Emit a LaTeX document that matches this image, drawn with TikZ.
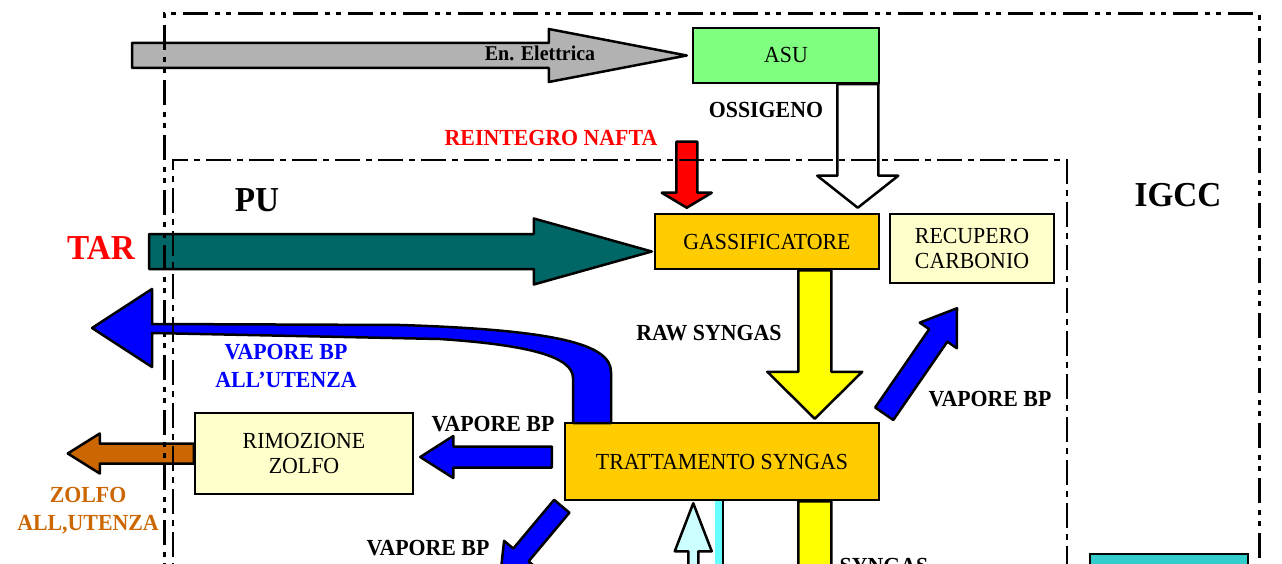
\documentclass[tikz,border=0pt]{standalone}
\usepackage{fontspec}
\setmainfont{Liberation Serif}[FakeStretch=0.95]
\usepackage{tikz}
\usetikzlibrary{calc}
\definecolor{asugreen}{RGB}{128,255,128}
\definecolor{gasorange}{RGB}{255,204,0}
\definecolor{boxcream}{RGB}{255,255,204}
\definecolor{tarteal}{RGB}{0,102,102}
\definecolor{vapblue}{RGB}{0,0,255}
\definecolor{sulfbrown}{RGB}{204,102,0}
\definecolor{elgray}{RGB}{178,178,178}
\definecolor{nafred}{RGB}{255,0,0}
\definecolor{synyellow}{RGB}{255,255,0}
\definecolor{watcyan}{RGB}{204,255,255}
\definecolor{barcyan}{RGB}{102,255,255}
\definecolor{unitteal}{RGB}{51,204,204}
% block arrow: [style]{tail}{tip}{half body}{half head}{head length}
\newcommand{\fatarrow}[6][]{%
  \coordinate (fa-base) at ($(#3)!#6!(#2)$);
  \draw[fatflow,#1] ($(#2)!#4!90:(#3)$) -- ($(fa-base)!#4!90:(#3)$)
    -- ($(fa-base)!#5!90:(#3)$) -- (#3) -- ($(fa-base)!#5!-90:(#3)$)
    -- ($(fa-base)!#4!-90:(#3)$) -- ($(#2)!#4!-90:(#3)$) -- cycle;}
\tikzset{
  unitbox/.style={draw=black,line width=2.5pt,align=center,inner sep=0pt,font=\fontsize{23}{25.5}\selectfont},
  flowlabel/.style={font=\bfseries\fontsize{23}{28}\selectfont,inner sep=0pt,align=center},
  arealabel/.style={font=\bfseries\fontsize{35}{40}\selectfont,inner sep=0pt},
  fatflow/.style={draw=black,line width=2.5pt,line join=round},
  igccline/.style={line width=3pt,dash pattern=on 25pt off 7pt on 5pt off 6pt on 5pt off 7pt},
  puline/.style={line width=2.8pt,dash pattern=on 25pt off 6pt on 6pt off 6pt},
}
\begin{document}
\begin{tikzpicture}[x=1pt,y=-1pt]
  \useasboundingbox (0,0) rectangle (1282,564);
  \clip (0,0) rectangle (1282,564);
  \node[unitbox,fill=asugreen,minimum width=186pt,minimum height=55pt] (asu) at (786,55.5) {ASU};
  \node[unitbox,fill=gasorange,minimum width=224pt,minimum height=55pt] (gass) at (767,241.5) {GASSIFICATORE};
  \node[unitbox,fill=boxcream,minimum width=164pt,minimum height=69pt] (recup) at (972,248.5) {RECUPERO\\CARBONIO};
  \node[unitbox,fill=gasorange,minimum width=314pt,minimum height=77pt] (tratt) at (722,461.5) {TRATTAMENTO SYNGAS};
  \node[unitbox,fill=boxcream,minimum width=218pt,minimum height=81pt] (rimoz) at (304,453.5) {RIMOZIONE\\ZOLFO};
  \node[unitbox,fill=unitteal,minimum width=158pt,minimum height=46pt] (unitbot) at (1169,577) {};

  \coordinate (eltail) at (132,55.5);
  \coordinate (eltip) at ($(asu.west)+(-5,0)$);
  \coordinate (oxtail) at ($(asu.south east)+(-22.5,0)$);
  \coordinate (oxtip) at ($(oxtail |- gass.north)+(0,-5)$);
  \coordinate (naftip) at ($(gass.north west)+(33,-5)$);
  \coordinate (naftail) at ($(naftip)+(0,-66)$);
  \coordinate (tartail) at (149,251.5);
  \coordinate (tartip) at ($(gass.west)+(-2,10)$);
  \coordinate (rawtail) at ($(gass.south east)+(-65.5,0)$);
  \coordinate (rawtip) at ($(rawtail |- tratt.north)+(0,-3)$);
  \coordinate (rectail) at ($(tratt.north east)+(4,-8)$);
  \coordinate (rectip) at ($(recup.south)+(-15,24)$);
  \coordinate (rimtail) at ($(tratt.west)+(-12,-4.5)$);
  \coordinate (rimtip) at ($(rimoz.east)+(6,3.5)$);
  \coordinate (zoltip) at ($(rimoz.west)+(-126,0)$);
  \coordinate (dntail) at ($(tratt.south west)+(-2,5)$);
  \coordinate (dntip) at ($(dntail)+(-62,74)$);
  \coordinate (wattip) at ($(tratt.south west)+(129.5,2)$);
  \coordinate (wattail) at ($(wattip)+(0,120)$);
  \coordinate (syntail) at (rawtail |- tratt.south);
  \coordinate (syntip) at ($(syntail)+(0,200)$);

  \fatarrow[fill=elgray]{eltail}{eltip}{12.5pt}{26.5pt}{138pt}
  \fatarrow[fill=white]{oxtail}{oxtip}{20.5pt}{40.5pt}{32pt}
  \fatarrow[fill=nafred]{naftail}{naftip}{10.5pt}{25pt}{15pt}
  \fatarrow[fill=tarteal]{tartail}{tartip}{17.5pt}{33pt}{118pt}
  \fatarrow[fill=synyellow]{rawtail}{rawtip}{16.5pt}{47.5pt}{47pt}
  \fatarrow[fill=vapblue]{rectail}{rectip}{11pt}{22.5pt}{33pt}
  \fatarrow[fill=vapblue]{rimtail}{rimtip}{10.5pt}{21pt}{33pt}
  \fatarrow[fill=sulfbrown]{rimoz.west}{zoltip}{10pt}{20pt}{32pt}
  \fatarrow[fill=vapblue]{dntail}{dntip}{10pt}{22pt}{33pt}
  \fatarrow[fill=watcyan]{wattail}{wattip}{5pt}{18.5pt}{48pt}
  \fatarrow[fill=synyellow]{syntail}{syntip}{16.5pt}{40pt}{30pt}
  \fill[barcyan] ($(tratt.south west)+(151,0)$) rectangle ++(7,120);
  \draw[line width=2.5pt] ($(tratt.south west)+(159,0)$) -- ++(0,120);
  % steam back to the users
  \draw[fatflow,fill=vapblue] (611,423) -- (611,372) .. controls (611,345) and (560,330) .. (400,325)
    -- (152,324) -- (152,289) -- (92,328) -- (152,367) -- (152,333) -- (440,339)
    .. controls (530,345) and (573,357) .. (573,378) -- (573,423) -- cycle;

  \node[flowlabel,font=\bfseries\fontsize{21}{24}\selectfont] (ellabel) at (540,53) {En. Elettrica};
  \node[flowlabel] (oxlabel) at (766,110) {OSSIGENO};
  \node[flowlabel,text=nafred] (naflabel) at (551,138) {REINTEGRO NAFTA};
  \node[arealabel] (pulabel) at (257,200) {PU};
  \node[arealabel] (igcclabel) at (1178,195) {IGCC};
  \node[arealabel,text=nafred] (tarlabel) at (101,248) {TAR};
  \node[flowlabel] (rawlabel) at (709,333) {RAW SYNGAS};
  \node[flowlabel] (vapright) at (990,399) {VAPORE BP};
  \node[flowlabel,text=vapblue] (vapuser) at (286,366) {VAPORE BP\\ALL'UTENZA};
  \node[flowlabel] (vapleft) at (493,424) {VAPORE BP};
  \node[flowlabel,text=sulfbrown] (zolfolabel) at (88,511) {ZOLFO\\ALL,UTENZA};
  \node[flowlabel] (vapdown) at (428,548) {VAPORE BP};
  \node[flowlabel] (synlabel) at (884,566) {SYNGAS};

  \draw[igccline] (164,600) -- (164,14) -- (1259,14) -- (1259,600);
  \draw[puline] (173,600) -- (173,160) -- (1067,160) -- (1067,600);
\end{tikzpicture}
\end{document}
